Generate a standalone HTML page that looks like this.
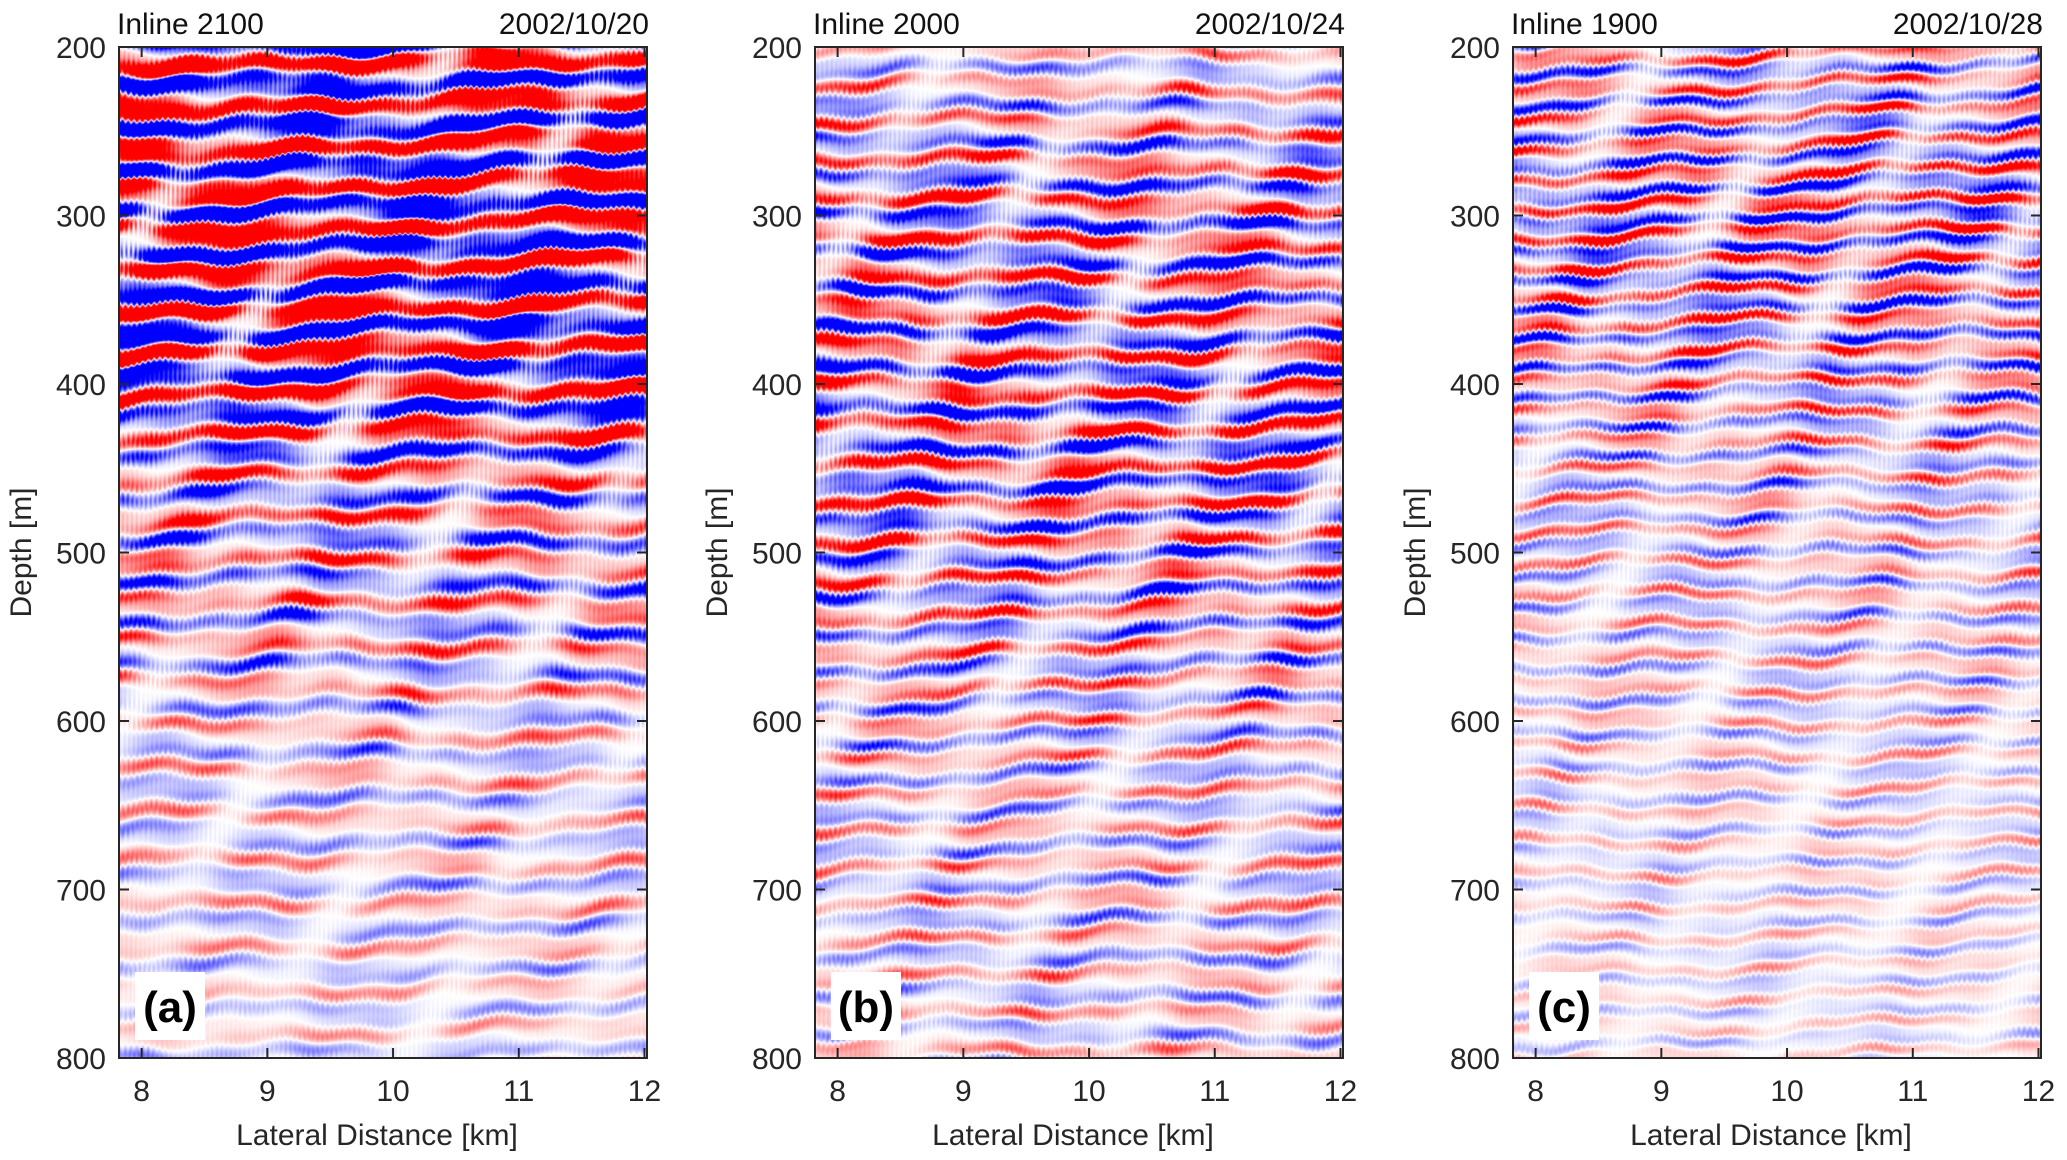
<!DOCTYPE html>
<html><head><meta charset="utf-8">
<style>
html,body{margin:0;padding:0;background:#fff;}
#wrap{position:relative;width:2067px;height:1160px;overflow:hidden;font-family:"Liberation Sans",Arial,sans-serif;}
canvas{position:absolute;}
svg{position:absolute;left:0;top:0;}
</style></head>
<body>
<div id="wrap">
<canvas id="ca"></canvas>
<canvas id="cb"></canvas>
<canvas id="cc"></canvas>
<svg id="ov" width="2067" height="1160"></svg>
</div>
<script>
// ---- data ----
const panelTitles = ["Inline 2100", "Inline 2000", "Inline 1900"];
const panelDates = ["2002/10/20", "2002/10/24", "2002/10/28"];
const panelTags = ["(a)", "(b)", "(c)"];
const xTicks = [8, 9, 10, 11, 12];
const yTicks = [200, 300, 400, 500, 600, 700, 800];
const envDepths = [200, 250, 300, 350, 400, 450, 500, 550, 600, 650, 700, 750, 800];
const envA = [2.8, 2.8, 3.0, 3.0, 2.5, 1.2, 1.1, 0.9, 0.65, 0.55, 0.55, 0.45, 0.4];
const envB = [0.5, 0.95, 1.4, 1.4, 1.5, 1.5, 1.2, 0.9, 0.75, 0.6, 0.65, 0.6, 0.55];
const envC = [0.9, 1.05, 1.35, 1.15, 0.9, 0.7, 0.6, 0.55, 0.48, 0.4, 0.36, 0.33, 0.3];
const periodA = 25, periodB = 22, periodC = 18;
// ---- layout ----
const X0 = 7.82, X1 = 12.02, Y0 = 200, Y1 = 800;
const panels = [
  {id:"ca", left:119, env:envA, P:periodA, seed:1.3},
  {id:"cb", left:815, env:envB, P:periodB, seed:4.7},
  {id:"cc", left:1513, env:envC, P:periodC, seed:8.1}
];
const PW = 528, TOP = 47, BOT = 1058, PH = BOT - TOP;
function xs(p, v){ return p.left + (v - X0) / (X1 - X0) * PW; }
function ys(v){ return TOP + (v - Y0) / (Y1 - Y0) * PH; }
function envAt(env, d){
  const t = (d - envDepths[0]) / 50; const i = Math.max(0, Math.min(envDepths.length-2, Math.floor(t)));
  const f = t - i; return env[i]*(1-f) + env[i+1]*f;
}
panels.forEach(p=>{
  const cv = document.getElementById(p.id);
  cv.width = PW; cv.height = PH;
  cv.style.left = p.left+"px"; cv.style.top = TOP+"px";
  const ctx = cv.getContext("2d");
  const img = ctx.createImageData(PW, PH);
  const s = p.seed;
  for(let j=0;j<PH;j++){
    const d = Y0 + j/PH*(Y1-Y0);
    const e = envAt(p.env, d);
    for(let i=0;i<PW;i++){
      const w = 4*Math.sin(i*0.006+d*0.011+s) + 2.2*Math.sin(i*0.028-d*0.023+s*2)
              + 1.2*Math.sin(i*0.09+d*0.05+s*3) + 0.8*Math.sin(i*1.1+s)*Math.sin(d*0.2+i*0.01);
      const ph = 2*Math.PI*(d + w)/p.P;
      const m = 0.6 + 0.3*Math.sin(i*0.037 + d*0.045 + s*1.9)
                    + 0.25*Math.sin(i*0.013 - d*0.021 + s)*Math.sin(i*0.071+d*0.09+s*0.5)
                    + 0.12*Math.sin(i*1.37 + d*0.03 + s);
      let v = e*m*(Math.sin(ph) + 0.4*Math.sin(ph*1.9 + i*0.015 + s));
      v = Math.max(-1, Math.min(1, v));
      const k = (j*PW+i)*4;
      if(v>=0){ img.data[k]=255; img.data[k+1]=img.data[k+2]=Math.round(255*(1-v)); }
      else { img.data[k]=img.data[k+1]=Math.round(255*(1+v)); img.data[k+2]=255; }
      img.data[k+3]=255;
    }
  }
  ctx.putImageData(img,0,0);
});
// ---- axes ----
const NS="http://www.w3.org/2000/svg";
const svg=document.getElementById("ov");
function mk(tag, attrs, txt){
  const el=document.createElementNS(NS,tag);
  for(const k in attrs) el.setAttribute(k, attrs[k]);
  if(txt!==undefined) el.textContent=txt;
  svg.appendChild(el); return el;
}
panels.forEach((p,pi)=>{
  const f = mk("rect",{x:p.left,y:TOP,width:PW,height:PH,fill:"none",stroke:"#262626","stroke-width":2});
  
  
  xTicks.forEach(t=>{
    const x=xs(p,t);
    const l1=mk("line",{x1:x,y1:BOT,x2:x,y2:BOT-10,stroke:"#262626","stroke-width":2});
    
    
    const l2=mk("line",{x1:x,y1:TOP,x2:x,y2:TOP+10,stroke:"#262626","stroke-width":2});
    
    
    const tl=mk("text",{x:x,y:1101,"text-anchor":"middle","font-size":30,fill:"#262626"},String(t));
    
    
  });
  yTicks.forEach(t=>{
    const y=ys(t);
    const l1=mk("line",{x1:p.left,y1:y,x2:p.left+10,y2:y,stroke:"#262626","stroke-width":2});
    
    
    const l2=mk("line",{x1:p.left+PW,y1:y,x2:p.left+PW-10,y2:y,stroke:"#262626","stroke-width":2});
    
    
    const tl=mk("text",{x:p.left-13,y:y+11,"text-anchor":"end","font-size":30,fill:"#262626"},String(t));
    
    
  });
  const xt=mk("text",{x:p.left+PW/2-6,y:1145,"text-anchor":"middle","font-size":30,fill:"#262626"},"Lateral Distance [km]");
  
  
  const yx=p.left-88, yy=(TOP+BOT)/2;
  const yt=mk("text",{x:yx,y:yy,"text-anchor":"middle","font-size":30,fill:"#262626",transform:`rotate(-90 ${yx} ${yy})`},"Depth [m]");
  
  
  const tt=mk("text",{x:p.left-2,y:34,"text-anchor":"start","font-size":30,fill:"#111"},panelTitles[pi]);
  
  
  const dt=mk("text",{x:p.left+PW+2,y:34,"text-anchor":"end","font-size":30,fill:"#111"},panelDates[pi]);
  
  
  const bx=mk("rect",{x:p.left+16,y:972,width:70,height:68,fill:"#fff"});
  
  
  const tg=mk("text",{x:p.left+51,y:1022,"text-anchor":"middle","font-size":44,"font-weight":"bold",fill:"#000"},panelTags[pi]);
  
  
});
</script>
</body></html>
